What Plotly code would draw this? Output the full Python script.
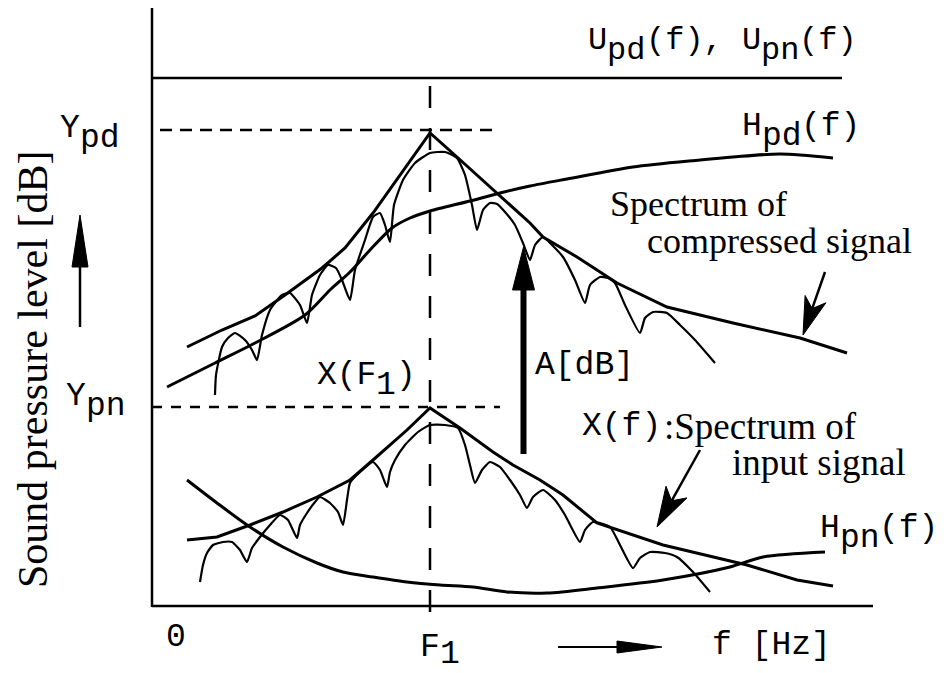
import plotly.graph_objects as go

# ---------------- data (f: frequency units, 0 at the vertical axis; L: level units, 0 at the f axis)
# Spectrum of compressed signal: envelope
comp_env_f = [35, 70, 103, 133, 170, 193, 221, 248, 278, 305, 341, 378, 391, 425, 465, 515, 581, 648, 695]
comp_env_L = [259, 276, 290, 311, 338, 358, 393, 431, 473, 449, 416, 383, 369, 349, 323, 299, 283, 268, 253]

# H_pd(f)
hpd_f = [15, 63, 103, 153, 178, 198, 218, 240, 258, 278, 318, 348, 378, 415, 481, 548, 581, 628, 681]
hpd_L = [219, 243, 263, 291, 316, 334, 356, 378, 388, 395, 405, 413, 420, 427, 439, 446, 449, 452, 448]

# compressed signal: harmonic comb
comp_comb_f = [63, 64, 70, 76, 83, 93, 100, 105, 110, 118, 130, 138, 148, 155, 160, 168, 176, 184, 190, 198,
               203, 213, 221, 228, 233, 238, 242, 251, 263, 278, 293, 305, 313, 320, 325, 331, 338, 345, 353,
               363, 371, 378, 383, 391, 400, 411, 423, 433, 438, 448, 456, 463, 473, 488, 493, 501, 515, 528,
               543, 563]
comp_comb_L = [211, 231, 259, 268, 273, 266, 256, 246, 271, 296, 311, 313, 301, 283, 311, 331, 341, 338, 326, 306,
               336, 366, 389, 393, 381, 364, 401, 426, 443, 453, 454, 448, 431, 401, 376, 396, 403, 402, 394,
               381, 363, 346, 361, 369, 361, 349, 326, 303, 321, 329, 328, 323, 301, 273, 288, 294, 293, 281,
               266, 243]

# X(f): spectrum of input signal, envelope
in_env_f = [35, 65, 98, 131, 165, 198, 221, 255, 278, 308, 341, 361, 388, 411, 445, 511, 595, 645, 681]
in_env_L = [66, 69, 81, 94, 109, 126, 146, 176, 198, 178, 154, 141, 126, 111, 83, 61, 41, 26, 20]

# input signal: harmonic comb
in_comb_f = [48, 51, 55, 61, 71, 80, 88, 95, 100, 108, 118, 128, 136, 145, 148, 155, 163, 168, 178, 186, 191,
             195, 198, 208, 221, 228, 235, 238, 243, 253, 266, 278, 293, 306, 313, 318, 323, 330, 338, 348, 358,
             368, 375, 381, 391, 403, 413, 428, 433, 441, 458, 468, 481, 488, 498, 513, 525, 541, 558]
in_comb_L = [24, 41, 53, 61, 64, 64, 56, 44, 58, 69, 81, 91, 86, 68, 81, 93, 104, 109, 103, 94, 81,
             106, 123, 134, 144, 136, 119, 134, 146, 161, 174, 181, 181, 178, 161, 141, 123, 136, 144, 139, 126,
             111, 98, 109, 116, 106, 91, 64, 76, 84, 79, 61, 38, 48, 54, 53, 49, 34, 14]

# H_pn(f)
hpn_f = [35, 65, 98, 131, 165, 191, 221, 255, 288, 321, 355, 395, 445, 511, 578, 611, 673]
hpn_L = [126, 103, 79, 59, 43, 34, 29, 24, 21, 19, 14, 13, 18, 26, 39, 49, 54]

# reference levels / frequencies
F1 = 278
Y_pd = 476
Y_pn = 199
U_level = 528
U_end = 690
f_axis_end = 721
L_axis_top = 598

# text labels ({...} = subscript)
lbl_U = "U{pd}(f), U{pn}(f)"
lbl_Hpd = "H{pd}(f)"
lbl_Hpn = "H{pn}(f)"
lbl_Ypd = "Y{pd}"
lbl_Ypn = "Y{pn}"
lbl_XF1 = "X(F{1})"
lbl_F1 = "F{1}"
lbl_A = "A[dB]"
lbl_f = "f [Hz]"
lbl_zero = "0"
lbl_Xf = "X(f)"
lbl_comp1 = "Spectrum of"
lbl_comp2 = "compressed signal"
lbl_in1 = ":Spectrum of"
lbl_in2 = "input signal"
lbl_ytitle = "Sound pressure level [dB]"

# ---------------- figure
BLACK = "#000000"
MONO = "Liberation Mono"
SERIF = "Liberation Serif"
NB = "\u00a0"

fig = go.Figure()


def add_line(f, L, width, shape="linear", smoothing=0.0):
    line = dict(color=BLACK, width=width, shape=shape)
    if shape == "spline":
        line["smoothing"] = smoothing
    fig.add_trace(go.Scatter(x=f, y=L, mode="lines", line=line, hoverinfo="skip", showlegend=False))


add_line(hpd_f, hpd_L, 3, "spline", 0.8)
add_line(comp_env_f, comp_env_L, 3)
add_line(comp_comb_f, comp_comb_L, 2.2, "spline", 0.5)
add_line(hpn_f, hpn_L, 3, "spline", 0.8)
add_line(in_env_f, in_env_L, 3)
add_line(in_comb_f, in_comb_L, 2.2, "spline", 0.5)

shapes = []


def seg(x0, y0, x1, y1, width=2.5, dash=None):
    d = dict(type="line", xref="x", yref="y", x0=x0, y0=y0, x1=x1, y1=y1,
             line=dict(color=BLACK, width=width))
    if dash:
        d["line"]["dash"] = dash
    shapes.append(d)


def arrow(tail, tip, head_len, half_w, shaft_w, notch=0.0):
    (xa, ya), (xt, yt) = tail, tip
    dx, dy = xa - xt, ya - yt
    n = (dx * dx + dy * dy) ** 0.5
    ux, uy = dx / n, dy / n
    px, py = -uy, ux
    bx, by = xt + ux * head_len, yt + uy * head_len
    p1 = (bx + px * half_w, by + py * half_w)
    p2 = (bx - px * half_w, by - py * half_w)
    inner = (xt + ux * (head_len - notch), yt + uy * (head_len - notch))
    seg(xa, ya, inner[0] - ux * 2, inner[1] - uy * 2, width=shaft_w)
    path = "M{:.1f},{:.1f} L{:.1f},{:.1f} L{:.1f},{:.1f} L{:.1f},{:.1f} Z".format(
        xt, yt, p1[0], p1[1], inner[0], inner[1], p2[0], p2[1])
    shapes.append(dict(type="path", xref="x", yref="y", path=path,
                       fillcolor=BLACK, line=dict(color=BLACK, width=1)))


# axes
seg(0, -1, 0, L_axis_top, 2.5)
seg(0, 0, f_axis_end, 0, 2.5)
seg(0, U_level, U_end, U_level, 2.5)
# dashed guides
seg(F1, -6, F1, U_level + 10, 2.5, dash="22px,20px")
seg(8, Y_pd, 348, Y_pd, 2.5, dash="12px,8px")
seg(0, Y_pn, 348, Y_pn, 2.5, dash="10px,9px")

# arrows
arrow((371.5, 152), (371.5, 359), 43, 11, 6)                 # A [dB]
arrow((-72, 279), (-72, 391), 52, 8, 2.5)                    # level axis arrow
arrow((406, -41), (510, -41), 45, 6, 2)                      # frequency axis arrow
arrow((673, 334), (651, 271), 38, 11, 2.5, notch=10)         # to compressed spectrum
arrow((548, 156), (505, 79), 40, 12, 2.5, notch=10)          # to input spectrum

anns = []


def parse_runs(template):
    runs, cur, in_sub = [], "", False
    for ch in template:
        if ch in "{}":
            if cur:
                runs.append((cur, in_sub))
            cur = ""
            in_sub = (ch == "{")
            continue
        cur += ch
    if cur:
        runs.append((cur, in_sub))
    return runs


def mono(x, y, template, size=33, drop=10):
    pitch = 0.6 * size
    pos = 0
    for text, is_sub in parse_runs(template):
        anns.append(dict(x=x + pos * pitch, y=y - (drop if is_sub else 0), text=text.replace(" ", NB),
                         xanchor="left", yanchor="middle", showarrow=False, borderpad=0, borderwidth=0,
                         font=dict(family=MONO, size=size, color=BLACK)))
        pos += len(text)


def serif(x, y, text, size=37, angle=0, xanchor="left"):
    anns.append(dict(x=x, y=y, text=text, xanchor=xanchor, yanchor="middle", showarrow=False,
                     textangle=angle, borderpad=0, borderwidth=0,
                     font=dict(family=SERIF, size=size, color=BLACK)))


mono(436, 566, lbl_U, size=32)
mono(590, 480, lbl_Hpd)
mono(668, 78, lbl_Hpn)
mono(-92, 478, lbl_Ypd)
mono(-86, 210, lbl_Ypn)
mono(165, 231, lbl_XF1)
mono(268, -41, lbl_F1, drop=7)
mono(383, 241, lbl_A)
mono(560, -39, lbl_f)
mono(14, -31, lbl_zero)
mono(430, 180, lbl_Xf)
serif(512, 180, lbl_in1)
serif(580, 144, lbl_in2)
serif(458, 402, lbl_comp1, size=36)
serif(495, 365, lbl_comp2, size=36)
serif(-119, 236, lbl_ytitle, size=42, angle=-90, xanchor="center")

# the page body has an 8 px margin: the figure fills the rest of the 949x673 window
fig.update_layout(
    width=941, height=665, autosize=False,
    margin=dict(l=0, r=0, t=0, b=0, pad=0),
    paper_bgcolor="white", plot_bgcolor="white",
    showlegend=False,
    xaxis=dict(range=[-144, 797], visible=False, fixedrange=True),
    yaxis=dict(range=[-67, 598], visible=False, fixedrange=True),
    shapes=shapes, annotations=anns,
)

fig.write_html("out.html")
